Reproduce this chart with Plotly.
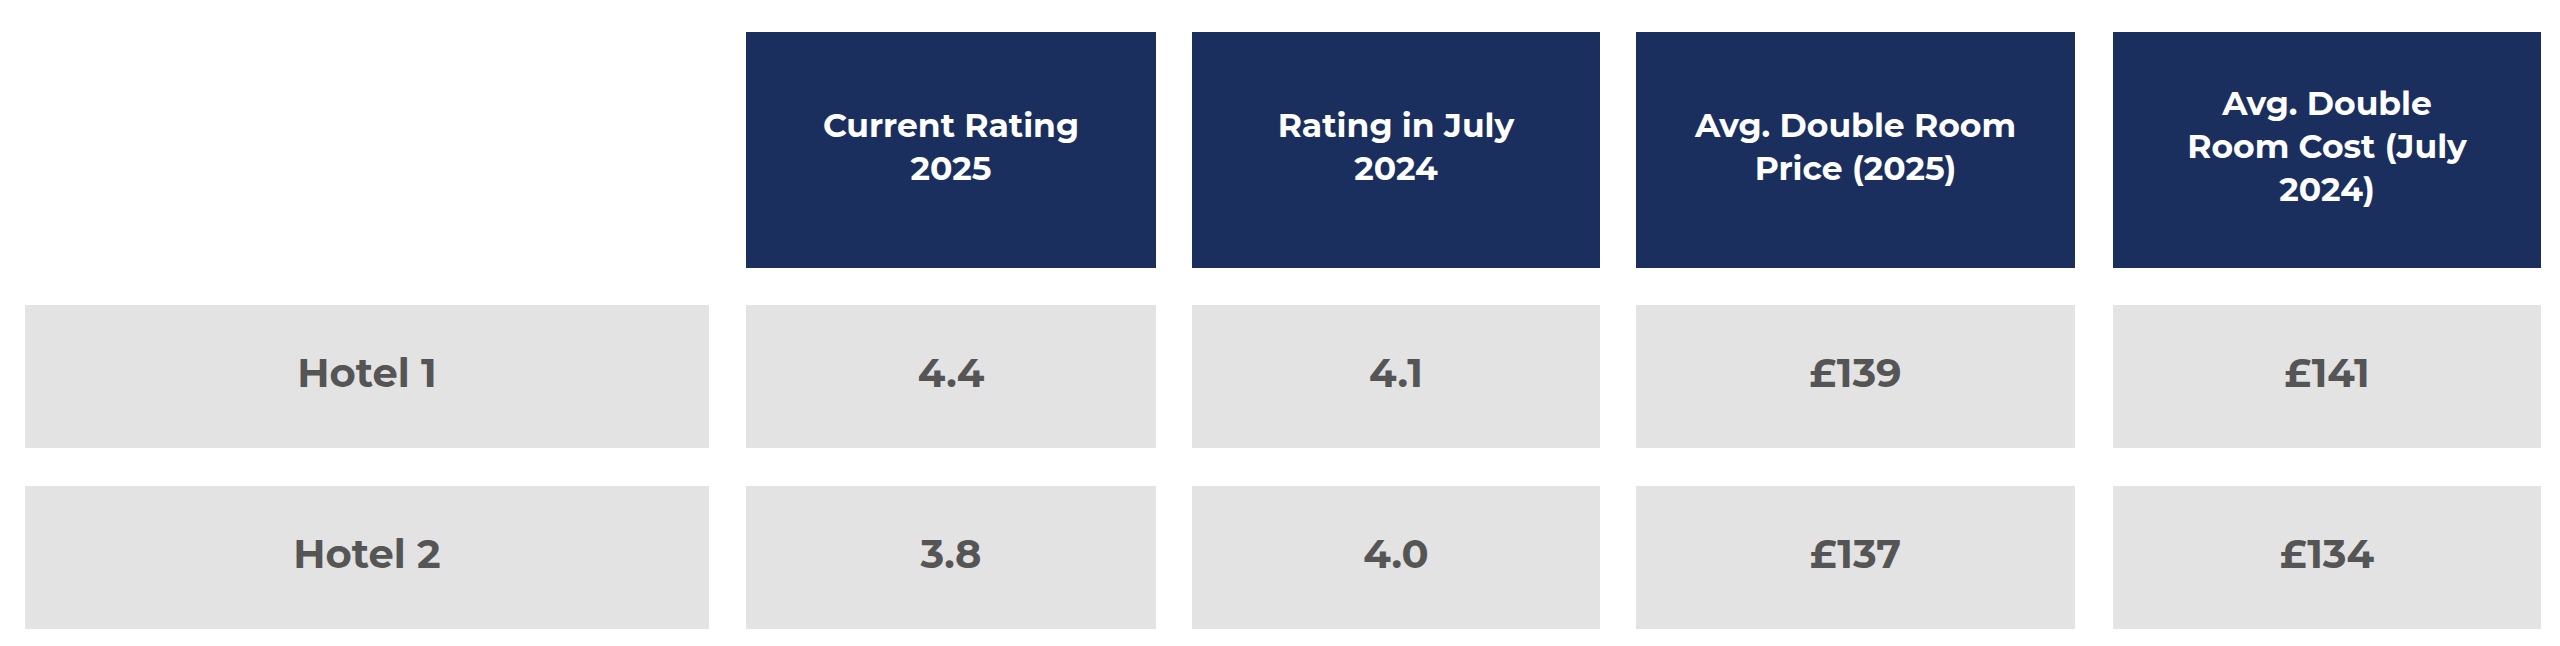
import plotly.graph_objects as go

# data
headers = ["Current Rating<br>2025", "Rating in July<br>2024",
           "Avg. Double Room<br>Price (2025)", "Avg. Double<br>Room Cost (July<br>2024)"]
hotels = ["Hotel 1", "Hotel 2"]
current_rating = ["4.4", "3.8"]
rating_july_2024 = ["4.1", "4.0"]
price_2025 = ["£139", "£137"]
cost_july_2024 = ["£141", "£134"]

# layout geometry (pixels)
W, H = 2560, 646
label_col = (17, 701)
cols = [(738, 1148), (1184, 1592), (1628, 2067), (2105, 2533)]
header_y = (24, 260)
rows_y = [(297, 440), (478, 621)]
NAVY = "#1b2f5f"
GREY = "#e3e3e3"
TEXT = "#555555"
FONT = "Montserrat, Open Sans, sans-serif"

fig = go.Figure()
shapes = []


def cell(x0, x1, y0, y1, color):
    shapes.append(dict(type="rect", xref="x", yref="y", x0=x0, x1=x1, y0=y0, y1=y1,
                       fillcolor=color, line_width=0, layer="below"))


hx, hy = [], []
for (x0, x1) in cols:
    cell(x0, x1, header_y[0], header_y[1], NAVY)
    hx.append((x0 + x1) / 2)
    hy.append(sum(header_y) / 2)
fig.add_trace(go.Scatter(x=hx, y=hy, text=headers, mode="text",
                         textfont=dict(family=FONT, size=33, color="white", weight="bold")))

columns = [current_rating, rating_july_2024, price_2025, cost_july_2024]
for r, (y0, y1) in enumerate(rows_y):
    cell(label_col[0], label_col[1], y0, y1, GREY)
    xs = [(label_col[0] + label_col[1]) / 2]
    txt = [hotels[r]]
    for c, (x0, x1) in enumerate(cols):
        cell(x0, x1, y0, y1, GREY)
        xs.append((x0 + x1) / 2)
        txt.append(columns[c][r])
    fig.add_trace(go.Scatter(x=xs, y=[(y0 + y1) / 2] * len(xs), text=txt, mode="text",
                             textfont=dict(family=FONT, size=40, color=TEXT, weight="bold")))

fig.update_layout(
    width=W, height=H, shapes=shapes, showlegend=False,
    margin=dict(l=0, r=0, t=0, b=0),
    plot_bgcolor="white", paper_bgcolor="white",
    xaxis=dict(range=[0, W], visible=False, fixedrange=True),
    yaxis=dict(range=[H, 0], visible=False, fixedrange=True),
)
fig.write_html("out.html", config={"displayModeBar": False})
